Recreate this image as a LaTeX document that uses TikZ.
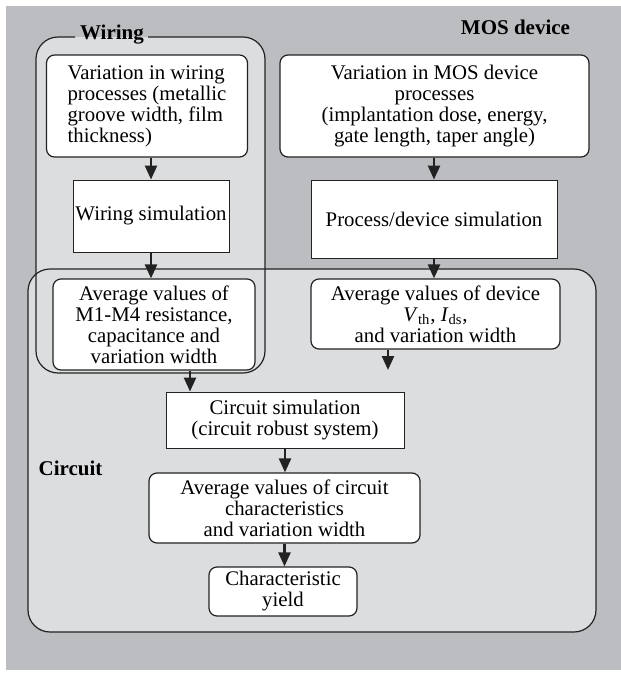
\documentclass[tikz,border=0pt]{standalone}
\usepackage{fontspec}
\setmainfont{Liberation Serif}
\usetikzlibrary{arrows.meta}
\definecolor{bggray}{HTML}{BCBDC1}
\definecolor{regiongray}{HTML}{DCDDDF}
\definecolor{linegray}{HTML}{222222}

\begin{document}
\begin{tikzpicture}[x=0.5pt, y=-0.5pt,
    roundbox/.style={draw=linegray, fill=white, line width=0.6pt, rounded corners=4pt,
      align=center, inner sep=0pt, font=\fontsize{10.4}{10.5}\selectfont},
    plainbox/.style={roundbox, sharp corners, line width=0.45pt},
    region/.style={draw=linegray, line width=0.6pt, rounded corners=11pt},
    flow/.style={draw=linegray, line width=1.2pt, -{Triangle[length=7pt,width=6pt]}},
    title/.style={font=\fontsize{10.5}{12}\selectfont\bfseries, inner sep=0pt}]
      \useasboundingbox (0,0) rectangle (621,675);
      \fill[bggray] (6,6) rectangle (621,670);
      \fill[regiongray, rounded corners=11pt] (36,37) rectangle (265,373);
      \fill[regiongray, rounded corners=11pt] (28,269) rectangle (596,632);
      \draw[region] (28,269) rectangle (596,632);
      \draw[region] (148,37) -| (265,373) -| (36,37) -- (75,37);
      \node[title] (wtitle) at (112,35) {Wiring};
      \node[title] (mtitle) at (515.5,27) {MOS device};
      \node[title] (ctitle) at (70.5,468) {Circuit};

      \node[roundbox, minimum width=100.5pt, minimum height=51pt, align=left] (wvar) at (147,106)
        {Variation in wiring\\processes (metallic\\groove width, film\\thickness)};
      \node[roundbox, minimum width=154.5pt, minimum height=51pt] (mvar) at (434.5,106)
        {Variation in MOS device\\processes\\(implantation dose, energy,\\gate length, taper angle)};
      \node[plainbox, minimum width=78pt, minimum height=36pt] (wsim) at (151,216) {Wiring simulation};
      \node[plainbox, minimum width=123pt, minimum height=39pt] (psim) at (434,219) {Process/device simulation};
      \node[roundbox, minimum width=101pt, minimum height=45.5pt] (wavg) at (154,324.5)
        {Average values of\\M1-M4 resistance,\\capacitance and\\variation width};
      \node[roundbox, minimum width=124.5pt, minimum height=35pt] (mavg) at (435.5,314)
        {Average values of device\\\textit{V}\textsubscript{th}, \textit{I}\textsubscript{ds},\\and variation width};
      \node[plainbox, minimum width=119pt, minimum height=28pt] (csim) at (285,420)
        {Circuit simulation\\(circuit robust system)};
      \node[roundbox, minimum width=135.5pt, minimum height=35pt] (cavg) at (284.5,508)
        {Average values of circuit\\characteristics\\and variation width};
      \node[roundbox, minimum width=74pt, minimum height=24.5pt] (yield) at (283,591.5)
        {Characteristic\\yield};
      \coordinate (mout) at (388,370);

      \draw[flow] (wvar.south -| wsim.north) -- (wsim.north);
      \draw[flow] (wsim.south) -- (wsim.south |- wavg.north);
      \draw[flow] (mvar.south -| psim.north) -- (psim.north);
      \draw[flow] (psim.south) -- (psim.south |- mavg.north);
      \draw[flow] (mavg.south -| mout) -- (mout);
      \draw[flow] ([xshift=18pt]wavg.south) -- ([xshift=18pt]wavg.south |- csim.north);
      \draw[flow] (csim.south) -- (csim.south |- cavg.north);
      \draw[flow] (cavg.south) -- (cavg.south |- yield.north);
    \end{tikzpicture}
\end{document}
